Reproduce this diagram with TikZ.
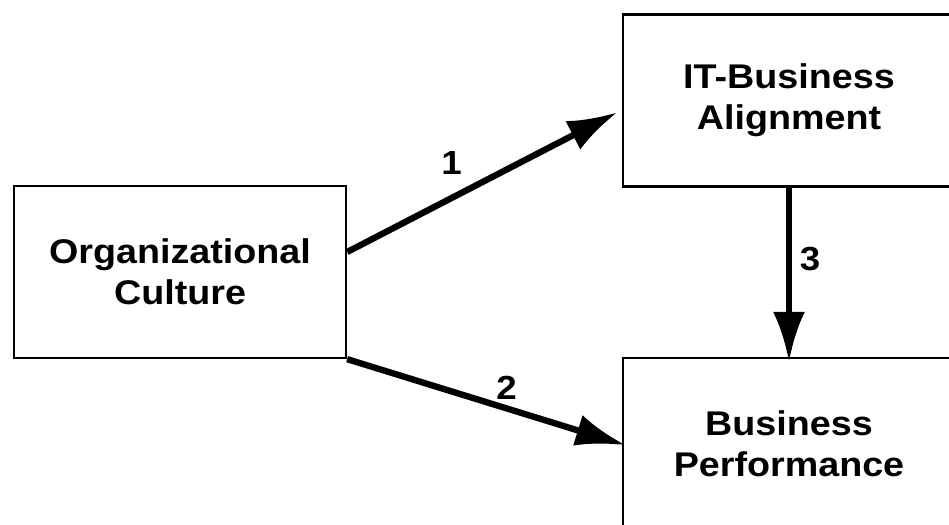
\documentclass[tikz,border=0pt]{standalone}
\usepackage{fontspec}
\setmainfont{Liberation Sans}[FakeStretch=1.1]
\usetikzlibrary{arrows.meta}

\begin{document}
\begin{tikzpicture}[
  box/.style={draw, line width=1.3pt, minimum width=6.64cm, minimum height=3.44cm,
    align=center, font=\bfseries\fontsize{19.5}{23.5}\selectfont},
  link/.style={line width=3.6pt, -{Latex[length=1cm, width=0.64cm]}},
  num/.style={font=\bfseries\fontsize{19}{20}\selectfont}]
\clip (0,0) rectangle (18.98,10.5);

% Boxes
\node[box] (oc) at (3.6,5.06) {Organizational\\Culture};
\node[box] (itba) at (15.78,8.49) {IT-Business\\Alignment};
\node[box] (bp) at (15.78,1.62) {Business\\Performance};

% Arrows
\draw[link, shorten >=0.1cm] ([yshift=0.4cm]oc.east) -- ([yshift=-0.19cm]itba.west)
  node[num, pos=0.38, above=0.3cm] (n1) {1};
\draw[link, shorten >=-0.08cm] (oc.south east) -- (bp.west)
  node[num, pos=0.58, above] (n2) {2};
\draw[link, shorten >=-0.1cm] (itba.south) -- (bp.north)
  node[num, pos=0.42, right=1pt] (n3) {3};

\end{tikzpicture}
\end{document}
